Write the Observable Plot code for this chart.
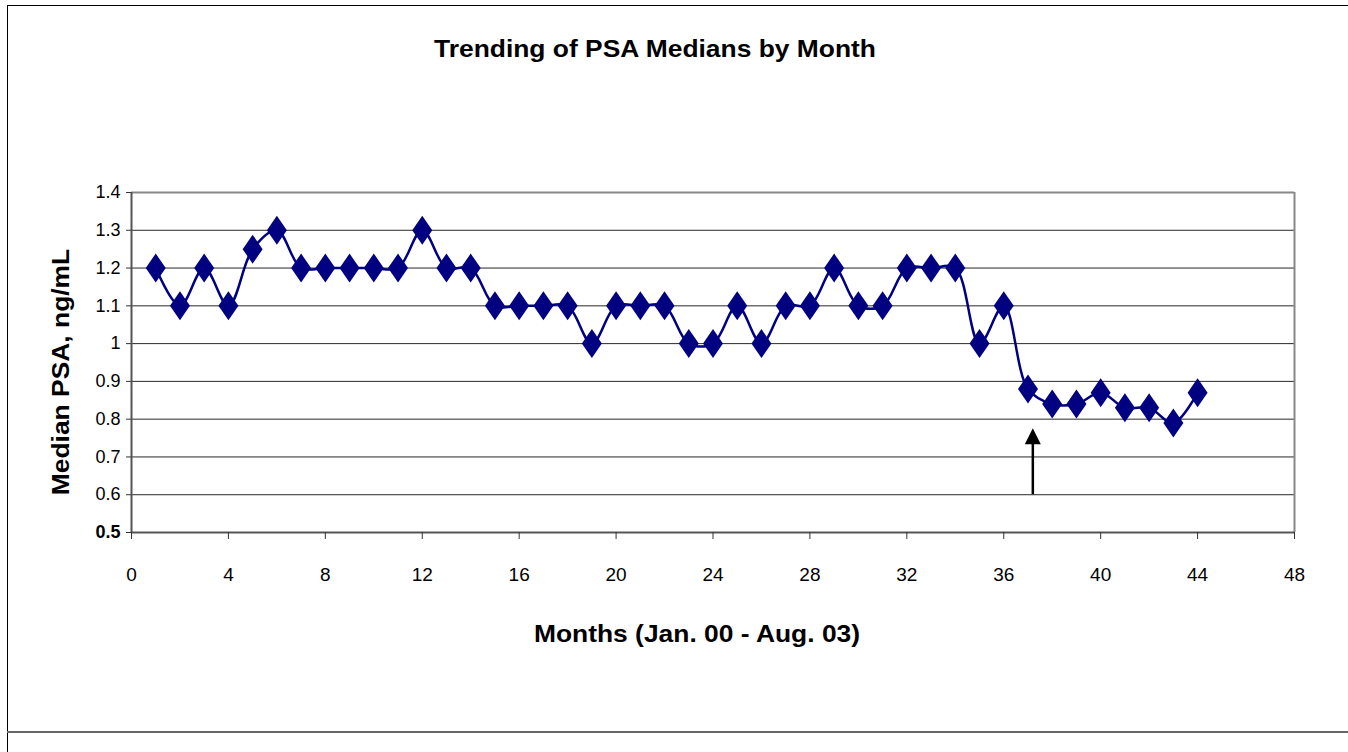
<!DOCTYPE html>
<html>
<head>
<meta charset="utf-8">
<script src="https://cdn.jsdelivr.net/npm/d3@7"></script>
<script src="https://cdn.jsdelivr.net/npm/@observablehq/plot@0.6"></script>
<style>
  html, body { margin: 0; padding: 0; background: #fff; }
  body { width: 1348px; height: 752px; overflow: hidden; position: relative; font-family: "Liberation Sans", Arial, sans-serif; color: #000; }
  .ln { position: absolute; }
  .ttl { position: absolute; font-weight: bold; font-size: 24px; line-height: 24px; height: 24px; white-space: nowrap; }
  #chart { position: absolute; left: 0; top: 0; }
</style>
</head>
<body>
<div class="ln" style="left:7px;top:5px;width:1px;height:747px;background:#000"></div>
<div class="ln" style="left:7px;top:5px;width:1341px;height:1px;background:#000"></div>
<div class="ln" style="left:7px;top:731px;width:1341px;height:2px;background:#666"></div>

<div class="ttl" id="title" style="left:655px;top:37px;transform:translateX(-50%) scaleX(1.1)">Trending of PSA Medians by Month</div>
<div class="ttl" id="xtitle" style="left:697px;top:622px;transform:translateX(-50%) scaleX(1.1)">Months (Jan. 00 - Aug. 03)</div>
<div class="ttl" id="ytitle">Median PSA, ng/mL</div>
<div id="chart"></div>

<script>
// ---- data ----
const months = [1,2,3,4,5,6,7,8,9,10,11,12,13,14,15,16,17,18,19,20,21,22,23,24,25,26,27,28,29,30,31,32,33,34,35,36,37,38,39,40,41,42,43,44];
const psaMedian = [1.2,1.1,1.2,1.1,1.25,1.3,1.2,1.2,1.2,1.2,1.2,1.3,1.2,1.2,1.1,1.1,1.1,1.1,1.0,1.1,1.1,1.1,1.0,1.0,1.1,1.0,1.1,1.1,1.2,1.1,1.1,1.2,1.2,1.2,1.0,1.1,0.88,0.84,0.84,0.87,0.83,0.83,0.79,0.87];
const xTicks = [0,4,8,12,16,20,24,28,32,36,40,44,48];
const yTicks = [0.5,0.6,0.7,0.8,0.9,1,1.1,1.2,1.3,1.4];
const arrowX = [37.2];
const arrowFrom = [0.6];
const arrowTo = [0.776];

const data = months.map((m, i) => ({month: m, psa: psaMedian[i]}));
const arrowData = arrowX.map((x, i) => ({x, from: arrowFrom[i], to: arrowTo[i]}));

// position the rotated y title
const yt = document.getElementById("ytitle");
yt.style.left = "0px";
yt.style.top = "0px";
const w = yt.getBoundingClientRect().width;
yt.style.left = (60.7 - w / 2) + "px";
yt.style.top = (372 - 12) + "px";
yt.style.transformOrigin = "50% 50%";
yt.style.transform = "rotate(-90deg) scaleX(1.1)";

const diamond = {
  draw(ctx) {
    ctx.moveTo(0, -14.5);
    ctx.lineTo(10, 0);
    ctx.lineTo(0, 14.5);
    ctx.lineTo(-10, 0);
    ctx.closePath();
  }
};
const arrowHead = {
  draw(ctx) {
    ctx.moveTo(0, 0);
    ctx.lineTo(8, 16);
    ctx.lineTo(-8, 16);
    ctx.closePath();
  }
};

const chart = Plot.plot({
  width: 1348,
  height: 700,
  marginLeft: 131,
  marginRight: 54,
  marginTop: 192,
  marginBottom: 168,
  style: {fontFamily: "'Liberation Sans', Arial, sans-serif", fontSize: "18px", color: "#000", background: "transparent", overflow: "visible"},
  x: {domain: [0, 48]},
  y: {domain: [0.5, 1.4]},
  marks: [
    Plot.gridY(yTicks, {stroke: "#111", strokeOpacity: 0.9, strokeWidth: 1}),
    Plot.ruleX([48], {stroke: "#888", strokeWidth: 2}),
    Plot.ruleY([1.4], {stroke: "#888", strokeWidth: 2}),
    Plot.ruleX([0], {stroke: "#555", strokeWidth: 2}),
    Plot.ruleY([0.5], {stroke: "#555", strokeWidth: 2}),
    Plot.axisY(yTicks.filter(v => v !== 0.5), {tickSize: 5, tickPadding: 6, fontSize: 18, tickFormat: d => String(d), label: null, stroke: "#333"}),
    Plot.axisY([0.5], {tickSize: 5, tickPadding: 6, fontSize: 18, fontWeight: "bold", tickFormat: d => String(d), label: null, stroke: "#333"}),
    Plot.axisX(xTicks, {tickSize: 7, tickPadding: 28, fontSize: 19, tickFormat: d => String(d), label: null, stroke: "#333"}),
    Plot.ruleX(arrowData, {x: "x", y1: "from", y2: d => d.to - 0.04, stroke: "#000", strokeWidth: 2.5}),
    Plot.dot(arrowData, {x: "x", y: "to", symbol: arrowHead, fill: "#000", stroke: "none"}),
    Plot.line(data, {x: "month", y: "psa", stroke: "#000080", strokeWidth: 2.5, curve: "catmull-rom"}),
    Plot.dot(data, {x: "month", y: "psa", symbol: diamond, fill: "#000080", stroke: "none"})
  ]
});
document.getElementById("chart").appendChild(chart);
</script>
</body>
</html>
